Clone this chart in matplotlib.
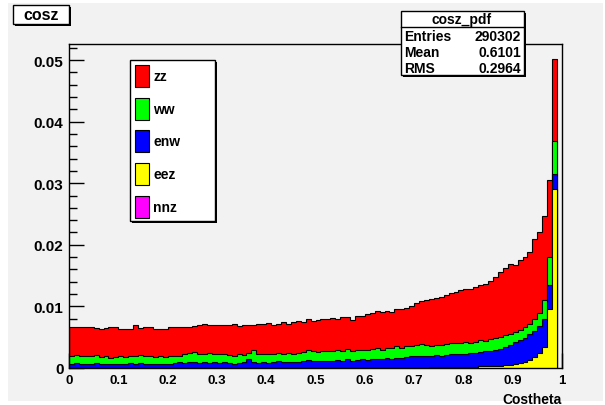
import matplotlib
matplotlib.use("Agg")
import matplotlib.pyplot as plt
from matplotlib.patches import Rectangle
import numpy as np

# stacked heights per 0.01 bin (cumulative, as THStack paints them)
top_zz = [
    0.0066, 0.0067, 0.0066, 0.0067, 0.0066, 0.0065, 0.0064, 0.0065, 0.0066, 0.0066,
    0.0063, 0.0064, 0.0064, 0.0069, 0.0065, 0.0066, 0.0066, 0.0064, 0.0063, 0.0064,
    0.0066, 0.0066, 0.0067, 0.0066, 0.0066, 0.0068, 0.0069, 0.0071, 0.0070, 0.0070,
    0.0069, 0.0069, 0.0070, 0.0072, 0.0068, 0.0070, 0.0069, 0.0070, 0.0072, 0.0071,
    0.0073, 0.0070, 0.0072, 0.0074, 0.0072, 0.0075, 0.0076, 0.0075, 0.0079, 0.0076,
    0.0078, 0.0079, 0.0080, 0.0081, 0.0079, 0.0083, 0.0082, 0.0078, 0.0084, 0.0085,
    0.0087, 0.0089, 0.0092, 0.0091, 0.0093, 0.0091, 0.0095, 0.0096, 0.0098, 0.0100,
    0.0106, 0.0109, 0.0111, 0.0112, 0.0114, 0.0116, 0.0118, 0.0121, 0.0123, 0.0126,
    0.0128, 0.0129, 0.0131, 0.0134, 0.0136, 0.0142, 0.0148, 0.0156, 0.0162, 0.0169,
    0.0168, 0.0176, 0.0180, 0.0188, 0.0209, 0.0221, 0.0247, 0.0305, 0.0502,
]
top_ww = [
    0.0020, 0.0021, 0.0020, 0.0019, 0.0020, 0.0021, 0.0018, 0.0019, 0.0017, 0.0018,
    0.0019, 0.0018, 0.0020, 0.0019, 0.0021, 0.0020, 0.0019, 0.0018, 0.0019, 0.0018,
    0.0019, 0.0020, 0.0020, 0.0022, 0.0024, 0.0026, 0.0023, 0.0022, 0.0024, 0.0023,
    0.0022, 0.0023, 0.0021, 0.0020, 0.0022, 0.0021, 0.0024, 0.0030, 0.0023, 0.0022,
    0.0022, 0.0023, 0.0025, 0.0022, 0.0024, 0.0023, 0.0025, 0.0026, 0.0029, 0.0027,
    0.0026, 0.0027, 0.0028, 0.0027, 0.0029, 0.0028, 0.0031, 0.0027, 0.0029, 0.0030,
    0.0030, 0.0031, 0.0032, 0.0030, 0.0033, 0.0032, 0.0035, 0.0033, 0.0035, 0.0036,
    0.0038, 0.0039, 0.0037, 0.0036, 0.0038, 0.0037, 0.0039, 0.0040, 0.0041, 0.0040,
    0.0042, 0.0041, 0.0043, 0.0045, 0.0044, 0.0047, 0.0049, 0.0050, 0.0053, 0.0056,
    0.0058, 0.0062, 0.0066, 0.0072, 0.0080, 0.0090, 0.0110, 0.0181, 0.0369,
]
top_enw = [
    0.0007, 0.0008, 0.0007, 0.0006, 0.0007, 0.0008, 0.0006, 0.0007, 0.0006, 0.0007,
    0.0007, 0.0006, 0.0008, 0.0007, 0.0008, 0.0007, 0.0006, 0.0007, 0.0007, 0.0006,
    0.0007, 0.0008, 0.0009, 0.0008, 0.0010, 0.0009, 0.0008, 0.0009, 0.0008, 0.0009,
    0.0008, 0.0009, 0.0008, 0.0007, 0.0008, 0.0009, 0.0015, 0.0009, 0.0008, 0.0009,
    0.0008, 0.0009, 0.0011, 0.0009, 0.0010, 0.0009, 0.0010, 0.0011, 0.0013, 0.0011,
    0.0011, 0.0012, 0.0011, 0.0012, 0.0013, 0.0012, 0.0014, 0.0012, 0.0013, 0.0014,
    0.0013, 0.0014, 0.0015, 0.0014, 0.0016, 0.0015, 0.0017, 0.0016, 0.0018, 0.0019,
    0.0019, 0.0020, 0.0019, 0.0020, 0.0021, 0.0020, 0.0021, 0.0022, 0.0023, 0.0022,
    0.0023, 0.0024, 0.0024, 0.0026, 0.0027, 0.0028, 0.0030, 0.0031, 0.0034, 0.0037,
    0.0042, 0.0045, 0.0049, 0.0055, 0.0060, 0.0068, 0.0080, 0.0135, 0.0315,
]
top_eez = [
    0.0, 0.0, 0.0, 0.0, 0.0, 0.0, 0.0, 0.0, 0.0, 0.0,
    0.0, 0.0, 0.0, 0.0, 0.0, 0.0, 0.0, 0.0, 0.0, 0.0,
    0.0, 0.0, 0.0, 0.0, 0.0, 0.0, 0.0, 0.0, 0.0, 0.0,
    0.0, 0.0, 0.0, 0.0, 0.0, 0.0, 0.0, 0.0, 0.0, 0.0,
    0.0, 0.0, 0.0, 0.0, 0.0, 0.0, 0.0, 0.0, 0.0, 0.0,
    0.0, 0.0, 0.0, 0.0, 0.0, 0.0, 0.0, 0.0, 0.0, 0.0,
    0.00002, 0.00002, 0.00003, 0.00003, 0.00003, 0.00004, 0.00004, 0.00005, 0.00005, 0.00006,
    0.00006, 0.00007, 0.00008, 0.00009, 0.00010, 0.00011, 0.00012, 0.00013, 0.00014, 0.00016,
    0.00018, 0.00020, 0.00022, 0.00025, 0.00028, 0.00031, 0.00035, 0.00040, 0.00045, 0.00052,
    0.0006, 0.0008, 0.0010, 0.0013, 0.0018, 0.0024, 0.0034, 0.0096, 0.0291,
]
top_nnz = [0.0] * len(top_zz)

names = ["zz", "ww", "enw", "eez", "nnz"]
colors = ["#ff0000", "#00ff00", "#0000ff", "#ffff00", "#ff00ff"]
stack = [top_zz, top_ww, top_enw, top_eez, top_nnz]

stat_labels = ["Entries", "Mean", "RMS"]
stat_values = ["290302", "0.6101", "0.2964"]

bg = "#f2f2f2"
W, H = 605, 406

fig = plt.figure(figsize=(W / 100, H / 100), dpi=100, facecolor="white")
fig.patches.append(Rectangle((8 / W, 4 / H), 595 / W, 398 / H, transform=fig.transFigure,
                             facecolor=bg, edgecolor="none", zorder=-10))

ax = fig.add_axes([69 / W, 1 - 369 / H, 493 / W, 324 / H])
ax.set_facecolor(bg)

edges = np.arange(len(top_zz) + 1) * 0.01
# tallest level first so the lower ones paint over it
for vals, col in zip(stack, colors):
    if max(vals) > 0:
        ax.stairs(vals, edges, fill=True, facecolor=col, edgecolor="black", linewidth=0.8)

ax.set_xlim(0, 1)
ax.set_ylim(0, 0.0526)
ax.set_axisbelow(True)

ax.set_xticks(np.arange(0, 1.01, 0.1))
ax.set_xticks(np.arange(0, 1.001, 0.02), minor=True)
ax.set_yticks(np.arange(0, 0.051, 0.01))
ax.set_yticks(np.arange(0, 0.0526, 0.002), minor=True)
ax.set_xticklabels(["0", "0.1", "0.2", "0.3", "0.4", "0.5", "0.6", "0.7", "0.8", "0.9", "1"])
ax.set_yticklabels(["0", "0.01", "0.02", "0.03", "0.04", "0.05"])
ax.tick_params(which="both", direction="in", top=False, right=False, width=1.0)
ax.tick_params(which="major", length=11, pad=4)
ax.tick_params(which="minor", length=5.5)
ax.tick_params(axis="x", labelsize=9.5)
ax.tick_params(axis="y", labelsize=11)
for lab in ax.get_xticklabels() + ax.get_yticklabels():
    lab.set_fontweight("bold")
    lab.set_fontfamily("Liberation Sans")
for sp in ax.spines.values():
    sp.set_linewidth(1.0)

ax.text(1.0, -0.075, "Costheta", transform=ax.transAxes, ha="right", va="top",
        fontsize=10, fontweight="bold", family="Liberation Sans")


def px_box(x0, y0, x1, y1, shadow=2):
    # box given in canvas pixels (y from top), with a ROOT style drop shadow
    fig.patches.append(Rectangle(((x0 + shadow) / W, 1 - (y1 + shadow) / H), (x1 - x0) / W,
                                 (y1 - y0) / H, transform=fig.transFigure,
                                 facecolor="black", edgecolor="none", zorder=5))
    fig.patches.append(Rectangle((x0 / W, 1 - y1 / H), (x1 - x0) / W, (y1 - y0) / H,
                                 transform=fig.transFigure, facecolor="white",
                                 edgecolor="black", linewidth=1.0, zorder=6))


def px_text(x, y, s, size=10, **kw):
    fig.text(x / W, 1 - y / H, s, fontsize=size, fontweight="bold",
             family="Liberation Sans", va="center", zorder=7, **kw)


# title box
px_box(13, 6, 69, 25)
px_text(41, 16, "cosz", size=11.5, ha="center")

# statistics box
px_box(401, 12, 524, 76)
fig.add_artist(plt.Line2D([401 / W, 524 / W], [1 - 28 / H, 1 - 28 / H], color="black",
                          linewidth=1.0, zorder=7))
px_text(462, 20, "cosz_pdf", ha="center")
for i, (lab, val) in enumerate(zip(stat_labels, stat_values)):
    y = 37 + i * 16
    px_text(404, y, lab, ha="left")
    px_text(521, y, val, ha="right")

# legend
px_box(130, 61, 215, 222)
for i, (name, col) in enumerate(zip(names, colors)):
    y = 77 + i * 32.7
    fig.patches.append(Rectangle((135 / W, 1 - (y + 11) / H), 14 / W, 22 / H,
                                 transform=fig.transFigure, facecolor=col,
                                 edgecolor="black", linewidth=0.8, zorder=7))
    px_text(153, y, name, ha="left")

fig.savefig("out.png", dpi=100, facecolor="white")
